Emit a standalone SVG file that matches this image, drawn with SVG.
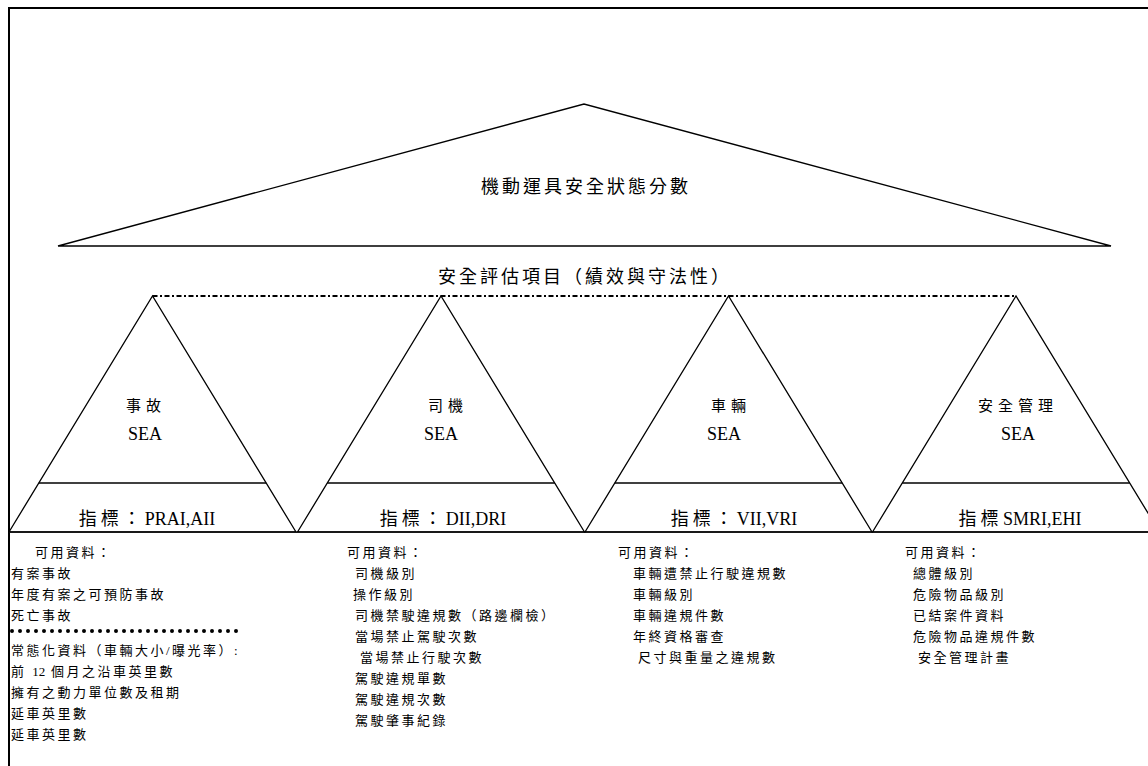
<svg xmlns="http://www.w3.org/2000/svg" width="1148" height="766" viewBox="0 0 1148 766">
<style>
.ln{fill:none;stroke:#000;stroke-width:1.3;stroke-linejoin:miter}
.frame{fill:none;stroke:#000;stroke-width:2}
.cjk{font-family:"Liberation Serif","Noto Sans CJK TC",serif;fill:#000}
.title{font-size:18px;letter-spacing:3px;text-anchor:middle}
.tri{font-size:15px;letter-spacing:5px;text-anchor:middle}
.sea{font-family:"Liberation Serif",serif;font-size:18px;text-anchor:middle}
.idx{font-size:18px;text-anchor:middle}
.sp{letter-spacing:4px}
.data{font-size:13px;letter-spacing:2.5px}
.nl{letter-spacing:0}
</style>
<rect width="1148" height="766" fill="#fff"/>
<g id="frame">
<polyline class="frame" points="9,766 9,8 1148,8"/>
</g>
<g id="top-score">
<polygon class="ln" points="58,246 584,104 1111,246"/>
<text class="cjk title" x="586" y="193">機動運具安全狀態分數</text>
</g>
<g id="assessment-label">
<text class="cjk title" x="585" y="283">安全評估項目（績效與守法性）</text>
</g>
<g id="connectors">
<line x1="152.5" y1="296" x2="1016" y2="296" stroke="#000" stroke-width="2" stroke-dasharray="5 2.5 2 2.5"/>
<line x1="9" y1="532" x2="1148" y2="532" stroke="#333" stroke-width="1.6"/>
</g>
<g id="node-accident">
<polygon class="ln" points="9,532 152.5,296 296,532"/>
<line class="ln" x1="38.8" y1="483" x2="266.2" y2="483"/>
<text class="cjk tri" x="146" y="411">事故</text>
<text class="sea" x="145" y="440">SEA</text>
<text class="cjk idx" x="147" y="525"><tspan class="sp">指標：</tspan>PRAI,AII</text>
</g>
<g id="node-driver">
<polygon class="ln" points="297.5,532 441,296 584.5,532"/>
<line class="ln" x1="327.3" y1="483" x2="554.7" y2="483"/>
<text class="cjk tri" x="448" y="411">司機</text>
<text class="sea" x="441" y="440">SEA</text>
<text class="cjk idx" x="443" y="525"><tspan class="sp">指標：</tspan>DII,DRI</text>
</g>
<g id="node-vehicle">
<polygon class="ln" points="585,532 728.5,296 872,532"/>
<line class="ln" x1="614.8" y1="483" x2="842.2" y2="483"/>
<text class="cjk tri" x="731" y="411">車輛</text>
<text class="sea" x="724" y="440">SEA</text>
<text class="cjk idx" x="734" y="525"><tspan class="sp">指標：</tspan>VII,VRI</text>
</g>
<g id="node-safety-mgmt">
<polygon class="ln" points="872.5,532 1016,296 1159.5,532"/>
<line class="ln" x1="902.3" y1="483" x2="1129.7" y2="483"/>
<text class="cjk tri" x="1018" y="411">安全管理</text>
<text class="sea" x="1018" y="440">SEA</text>
<text class="cjk idx" x="1020" y="525"><tspan class="sp">指</tspan><tspan class="nl">標 SMRI,EHI</tspan></text>
</g>
<g id="data-accident">
<text class="cjk data" x="35" y="557">可用資料：</text>
<text class="cjk data" x="11" y="578">有案事故</text>
<text class="cjk data" x="11" y="599">年度有案之可預防事故</text>
<text class="cjk data" x="11" y="620">死亡事故</text>
<line x1="12" y1="631" x2="244" y2="631" stroke="#000" stroke-width="4" stroke-linecap="round" stroke-dasharray="0 8"/>
<text class="cjk data" x="11" y="655">常態化資料（車輛大小/曝光率）:</text>
<text class="cjk data" x="11" y="676">前 <tspan class="nl">12</tspan> 個月之沿車英里數</text>
<text class="cjk data" x="11" y="697">擁有之動力單位數及租期</text>
<text class="cjk data" x="11" y="718">延車英里數</text>
<text class="cjk data" x="11" y="739">延車英里數</text>
</g>
<g id="data-driver">
<text class="cjk data" x="347" y="557">可用資料：</text>
<text class="cjk data" x="355" y="578">司機級別</text>
<text class="cjk data" x="353" y="599">操作級別</text>
<text class="cjk data" x="355" y="620">司機禁駛違規數（路邊欄檢）</text>
<text class="cjk data" x="355" y="641">當場禁止駕駛次數</text>
<text class="cjk data" x="360" y="662">當場禁止行駛次數</text>
<text class="cjk data" x="355" y="683">駕駛違規單數</text>
<text class="cjk data" x="355" y="704">駕駛違規次數</text>
<text class="cjk data" x="355" y="725">駕駛肇事紀錄</text>
</g>
<g id="data-vehicle">
<text class="cjk data" x="618" y="557">可用資料：</text>
<text class="cjk data" x="633" y="578">車輛遭禁止行駛違規數</text>
<text class="cjk data" x="633" y="599">車輛級別</text>
<text class="cjk data" x="633" y="620">車輛違規件數</text>
<text class="cjk data" x="633" y="641">年終資格審查</text>
<text class="cjk data" x="638" y="662">尺寸與重量之違規數</text>
</g>
<g id="data-safety-mgmt">
<text class="cjk data" x="905" y="557">可用資料：</text>
<text class="cjk data" x="913" y="578">總體級別</text>
<text class="cjk data" x="913" y="599">危險物品級別</text>
<text class="cjk data" x="913" y="620">已結案件資料</text>
<text class="cjk data" x="913" y="641">危險物品違規件數</text>
<text class="cjk data" x="918" y="662">安全管理計畫</text>
</g>
</svg>
